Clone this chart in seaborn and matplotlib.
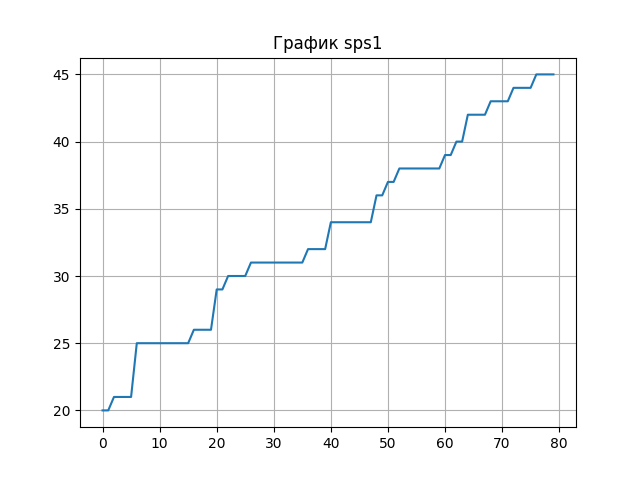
import matplotlib
matplotlib.use("Agg")
import matplotlib.pyplot as plt
import seaborn as sns
import pandas as pd

x_values = list(range(80))
sps1 = [20, 20, 21, 21, 21, 21, 25, 25, 25, 25,
        25, 25, 25, 25, 25, 25, 26, 26, 26, 26,
        29, 29, 30, 30, 30, 30, 31, 31, 31, 31,
        31, 31, 31, 31, 31, 31, 32, 32, 32, 32,
        34, 34, 34, 34, 34, 34, 34, 34, 36, 36,
        37, 37, 38, 38, 38, 38, 38, 38, 38, 38,
        39, 39, 40, 40, 42, 42, 42, 42, 43, 43,
        43, 43, 44, 44, 44, 44, 45, 45, 45, 45]
title = "График sps1"

df = pd.DataFrame({"x": x_values, "y": sps1})

fig, ax = plt.subplots(figsize=(6.4, 4.8), dpi=100)
sns.lineplot(data=df, x="x", y="y", ax=ax, color="#1f77b4")
ax.set_title(title)
ax.set_xlabel("")
ax.set_ylabel("")
ax.grid(True)
fig.savefig("out.png", dpi=100)
